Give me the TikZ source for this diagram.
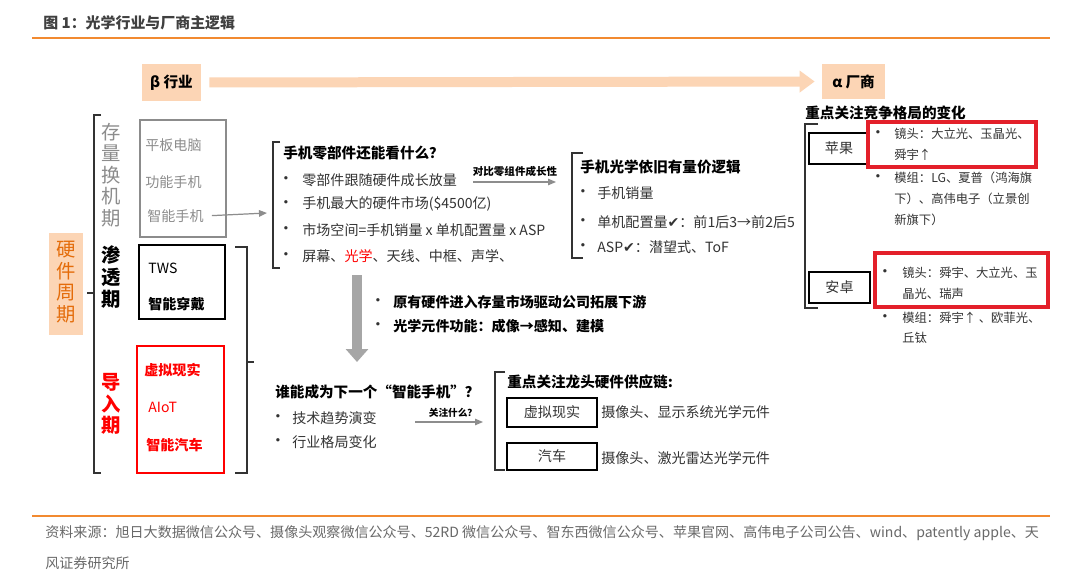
\documentclass[tikz,border=0pt]{standalone}
\usepackage{fontspec}
\setmainfont{Noto Sans CJK SC}
\newfontfamily\symfont{DejaVu Sans}
\usetikzlibrary{arrows.meta}
\definecolor{Peach}{HTML}{FCD5B5}
\definecolor{Rust}{HTML}{E46C0A}
\definecolor{Rule}{HTML}{F28A30}
\definecolor{Body}{HTML}{333333}
\definecolor{Muted}{HTML}{8C8C8C}
\definecolor{Mark}{HTML}{E3202A}
\definecolor{Shaft}{HTML}{A6A6A6}

\begin{document}
\begin{tikzpicture}[
    x=0.02cm, y=-0.02cm,
    font=\fontsize{8}{10}\selectfont, text=Body,
    txt/.style={anchor=west, inner sep=0pt},
    hd/.style={txt, font=\bfseries\fontsize{8.3}{10}\selectfont, text=black},
    bul/.style={inner sep=0pt, font=\symfont\fontsize{6.5}{8}\selectfont},
    fine/.style={txt, font=\fontsize{7}{9}\selectfont},
    tiny/.style={inner sep=0pt, font=\bfseries\fontsize{6}{7}\selectfont, text=black},
    vert/.style={align=center, inner sep=0pt, font=\fontsize{11}{12.3}\selectfont},
    tag/.style={fill=Peach, inner sep=0pt, font=\bfseries\fontsize{8.3}{10}\selectfont, text=black},
    boxed/.style={draw, line width=0.9pt, inner sep=0pt},
    redbox/.style={draw=Mark, line width=1.8pt},
    brk/.style={draw=Body, line width=0.9pt},
    garr/.style={draw=Shaft!85!black, line width=0.7pt, -{Triangle[length=0.16cm, width=0.13cm]}},
    src/.style={txt, font=\fontsize{8}{9}\selectfont, text=Muted!75!black}
  ]
  \fill[white] (0,0) rectangle (1080,575);
  \useasboundingbox (0,0) rectangle (1080,575);

  % header and footer
  \node[txt, font=\bfseries\fontsize{8.5}{10}\selectfont, text=black!75] (title) at (43,23) {图 1：光学行业与厂商主逻辑};
  \draw[Rule, line width=0.9pt] (32,38) -- (1050,38);
  \draw[Rule, line width=0.9pt] (32,516) -- (1050,516);
  \node[src] (s1) at (45,533) {资料来源：旭日大数据微信公众号、摄像头观察微信公众号、52RD 微信公众号、智东西微信公众号、苹果官网、高伟电子公司公告、wind、patently apple、天};
  \node[src] (s2) at (45,563) {风证券研究所};

  % beta -> alpha
  \node[tag, minimum width=1.18cm, minimum height=0.74cm] (beta) at (171.5,82.5) {β 行业};
  \node[tag, minimum width=1.26cm, minimum height=0.7cm] (alpha) at (853.5,81.5) {α 厂商};
  \draw[draw=Peach, line width=0.2cm, -{Triangle[length=0.3cm, width=0.42cm]},
        shorten <=0.16cm, shorten >=0.14cm] (beta.east) -- (alpha.west);

  % hardware cycle
  \node[fill=Peach, minimum width=0.68cm, minimum height=2.04cm, inner sep=0pt] (cyc) at (66,284) {};
  \node[vert, text=Rust] (cyct) at (66,282) {硬\\件\\周\\期};
  \draw[brk] (101,115) -- (94,115) -- (94,473) -- (101,473);
  \draw[brk] (94,293) -- (87,293);

  \node[vert, text=Muted] (st1) at (111,175) {存\\量\\换\\机\\期};
  \node[vert, text=black, font=\bfseries\fontsize{11}{12.3}\selectfont] (st2) at (111,277) {渗\\透\\期};
  \node[vert, text=red, font=\bfseries\fontsize{11}{12.3}\selectfont] (st3) at (111,404) {导\\入\\期};

  \node[boxed, draw=Muted, line width=1.1pt, minimum width=1.72cm, minimum height=2.34cm] (gbox) at (183,178.5) {};
  \node[txt, text=Muted] (g1) at (145,145) {平板电脑};
  \node[txt, text=Muted] (g2) at (145,182) {功能手机};
  \node[txt, text=Muted] (g3) at (147,216) {智能手机};

  \node[boxed, minimum width=1.72cm, minimum height=1.48cm] (kbox) at (182,282) {};
  \node[txt, text=black] (k1) at (148,268) {TWS};
  \node[txt, text=black, font=\bfseries\fontsize{8}{10}\selectfont] (k2) at (148,304) {智能穿戴};

  \node[boxed, draw=red, line width=1.1pt, minimum width=1.74cm, minimum height=2.54cm] (rbox) at (180.5,409.5) {};
  \node[txt, text=red, font=\bfseries\fontsize{8}{10}\selectfont] (r1) at (144,370) {虚拟现实};
  \node[txt, text=red] (r2) at (148,407) {AIoT};
  \node[txt, text=red, font=\bfseries\fontsize{8}{10}\selectfont] (r3) at (146,445) {智能汽车};

  \draw[brk] (235,247) -- (247,247) -- (247,473) -- (235,473);
  \draw[brk] (247,362) -- (254,362);

  \coordinate (kin) at (267,213);
  \draw[garr, shorten <=0.16cm] (g3.east) -- (kin);

  % phone components
  \draw[brk] (280,142) -- (273,142) -- (273,268) -- (280,268);
  \node[hd] (q1) at (283,153) {手机零部件还能看什么？};
  \foreach \yy/\lbl [count=\i] in {180/零部件跟随硬件成长放量, 204/手机最大的硬件市场(\$4500亿),
      230/市场空间=手机销量 x 单机配置量 x ASP, 256/屏幕、{\color{red}光学}、天线、中框、声学、} {
    \node[bul] (qd\i) at (286,\yy) {•};
    \node[txt] (qt\i) at (302,\yy) {\lbl};
  }
  \node[tiny] (cmp) at (515,171) {对比零组件成长性};
  \coordinate (cmpa) at (473,182);
  \coordinate (cmpb) at (556,182);
  \draw[garr] (cmpa) -- (cmpb);

  % phone optics
  \draw[brk] (583,153) -- (572,153) -- (572,258) -- (583,258);
  \node[hd] (q2) at (580,167) {手机光学依旧有量价逻辑};
  \foreach \yy/\lbl [count=\i] in {193/手机销量, 222/单机配置量{\symfont ✔}：前1后3→前2后5,
      247/ASP{\symfont ✔}：潜望式、ToF} {
    \node[bul] (od\i) at (583,\yy) {•};
    \node[txt] (ot\i) at (597,\yy) {\lbl};
  }

  % vendors
  \node[hd] (q3) at (805,113) {重点关注竞争格局的变化};
  \draw[brk] (818,124) -- (805,124) -- (805,308) -- (818,308);
  \node[boxed, minimum width=1.2cm, minimum height=0.62cm] (apple) at (839,148.5) {苹果};
  \node[boxed, minimum width=1.22cm, minimum height=0.62cm] (droid) at (839.5,287.5) {安卓};
  \draw[redbox] (868,122) rectangle (1036,167);
  \draw[redbox] (875,253) rectangle (1048,307);
  \node[bul] (ad1) at (878,134) {•};
  \node[bul] (ad2) at (878,178) {•};
  \foreach \yy/\lbl [count=\i] in {134/镜头：大立光、玉晶光、, 155/舜宇↑, 178/模组：LG、夏普（鸿海旗,
      199/下）、高伟电子（立景创, 220/新旗下）} {
    \node[fine] (at\i) at (894,\yy) {\lbl};
  }
  \node[bul] (bd1) at (885,273) {•};
  \node[bul] (bd2) at (885,318) {•};
  \foreach \yy/\lbl [count=\i] in {273/镜头：舜宇、大立光、玉, 294/晶光、瑞声, 318/模组：舜宇↑ 、欧菲光、, 338/丘钛} {
    \node[fine] (bt\i) at (902,\yy) {\lbl};
  }

  % downstream
  \coordinate (dtop) at (357,275);
  \coordinate (dbot) at (357,362);
  \draw[draw=Shaft, line width=0.2cm, -{Triangle[length=0.26cm, width=0.44cm]}] (dtop) -- (dbot);
  \foreach \yy/\lbl [count=\i] in {302/原有硬件进入存量市场驱动公司拓展下游, 326/光学元件功能：成像→感知、建模} {
    \node[bul] (md\i) at (378,\yy) {•};
    \node[txt, text=black, font=\bfseries\fontsize{8}{10}\selectfont] (mt\i) at (393,\yy) {\lbl};
  }

  % next smartphone
  \node[hd] (q4) at (275,392) {谁能成为下一个“智能手机”？};
  \foreach \yy/\lbl [count=\i] in {418/技术趋势演变, 442/行业格局变化} {
    \node[bul] (nd\i) at (278,\yy) {•};
    \node[txt] (nt\i) at (292,\yy) {\lbl};
  }
  \node[tiny, font=\bfseries\fontsize{5.5}{7}\selectfont] (ask) at (453,413) {关注什么？};
  \coordinate (aska) at (415,422);
  \coordinate (askb) at (483,422);
  \draw[garr] (aska) -- (askb);

  \draw[brk] (505,372) -- (495,372) -- (495,470) -- (505,470);
  \node[hd] (q5) at (507,382) {重点关注龙头硬件供应链:};
  \node[boxed, minimum width=1.8cm, minimum height=0.58cm] (vr) at (552,412.5) {虚拟现实};
  \node[boxed, minimum width=1.8cm, minimum height=0.54cm] (car) at (552,456.5) {汽车};
  \node[txt] (vrt) at (601,412) {摄像头、显示系统光学元件};
  \node[txt] (cart) at (601,458) {摄像头、激光雷达光学元件};
\end{tikzpicture}
\end{document}
